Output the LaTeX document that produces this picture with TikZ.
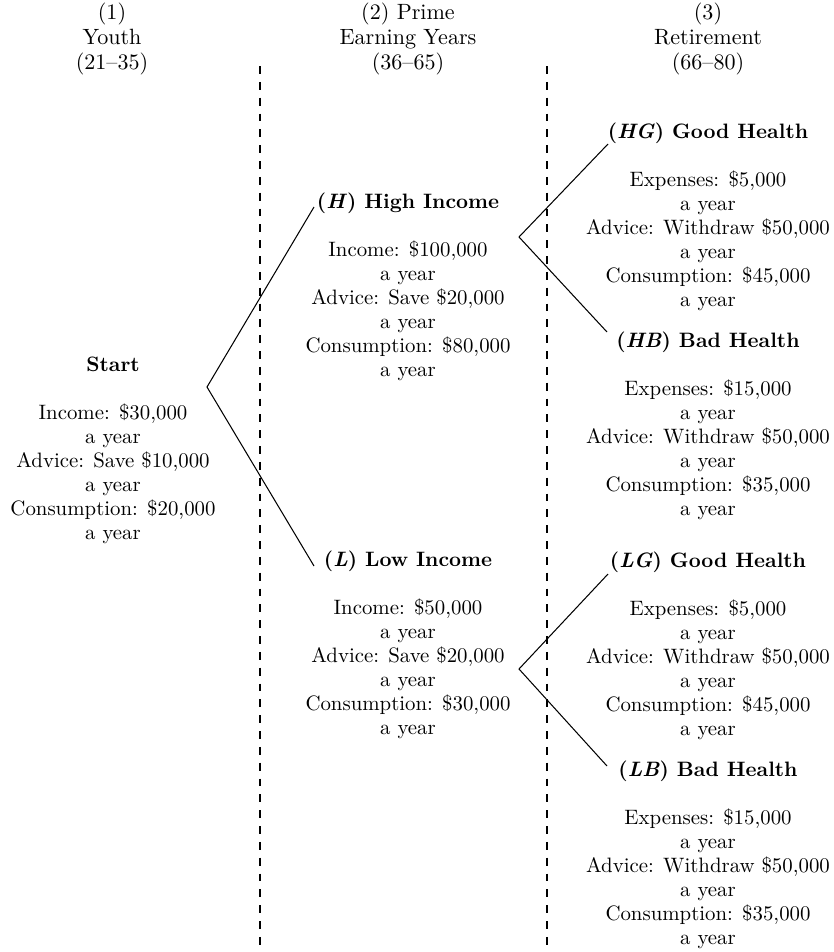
\documentclass[tikz,border=0pt]{standalone}
\usepackage{fontspec}
\begin{document}
\begin{tikzpicture}[x=0.48pt,y=-0.48pt,
  blk/.style={align=center,anchor=north,inner sep=0pt,font=\fontsize{10}{11.52}\selectfont},
  ttl/.style={font=\bfseries\fontsize{9.6}{11.52}\selectfont},
  hdr/.style={align=center,anchor=north,inner sep=0pt,font=\fontsize{10.6}{12}\selectfont},
  branch/.style={line width=0.5pt},
  divider/.style={line width=0.5pt,dash pattern=on 3.8pt off 3.8pt}]
\useasboundingbox (0,0) rectangle (834,952);

% column headers
\node[hdr] (h1) at (112,3) {(1)\\Youth\\(21--35)};
\node[hdr] (h2) at (408,3) {(2) Prime\\Earning Years\\(36--65)};
\node[hdr] (h3) at (708,3) {(3)\\Retirement\\(66--80)};

% dividers
\coordinate (d1t) at (260,66); \coordinate (d1b) at (260,952);
\coordinate (d2t) at (547,66); \coordinate (d2b) at (547,952);
\draw[divider] (d1t) -- (d1b);
\draw[divider] (d2t) -- (d2b);

% blocks
\node[blk] (S) at (113,357) {\textbf{Start}\\[11.52pt]Income: \$30,000\\a year\\Advice: Save \$10,000\\a year\\Consumption: \$20,000\\a year};
\node[blk] (H) at (408,192) {{\bfseries(\textit{H}) High Income}\\[11.52pt]Income: \$100,000\\a year\\Advice: Save \$20,000\\a year\\Consumption: \$80,000\\a year};
\node[blk] (L) at (408,550) {{\bfseries(\textit{L}) Low Income}\\[11.52pt]Income: \$50,000\\a year\\Advice: Save \$20,000\\a year\\Consumption: \$30,000\\a year};
\node[blk] (HG) at (708,122) {{\bfseries(\textit{HG}) Good Health}\\[11.52pt]Expenses: \$5,000\\a year\\Advice: Withdraw \$50,000\\a year\\Consumption: \$45,000\\a year};
\node[blk] (HB) at (708,331) {{\bfseries(\textit{HB}) Bad Health}\\[11.52pt]Expenses: \$15,000\\a year\\Advice: Withdraw \$50,000\\a year\\Consumption: \$35,000\\a year};
\node[blk] (LG) at (708,551) {{\bfseries(\textit{LG}) Good Health}\\[11.52pt]Expenses: \$5,000\\a year\\Advice: Withdraw \$50,000\\a year\\Consumption: \$45,000\\a year};
\node[blk] (LB) at (708,760) {{\bfseries(\textit{LB}) Bad Health}\\[11.52pt]Expenses: \$15,000\\a year\\Advice: Withdraw \$50,000\\a year\\Consumption: \$35,000\\a year};

% branches
\coordinate (v0) at (207,387);
\coordinate (Hend) at (314,207);
\coordinate (Lend) at (314,566);
\draw[branch] (Hend) -- (v0) -- (Lend);

\coordinate (vH) at (519,237);
\coordinate (HGend) at (608,144);
\coordinate (HBend) at (607,332);
\draw[branch] (HGend) -- (vH) -- (HBend);

\coordinate (vL) at (519,669);
\coordinate (LGend) at (608,574);
\coordinate (LBend) at (607,766);
\draw[branch] (LGend) -- (vL) -- (LBend);
\end{tikzpicture}
\end{document}
